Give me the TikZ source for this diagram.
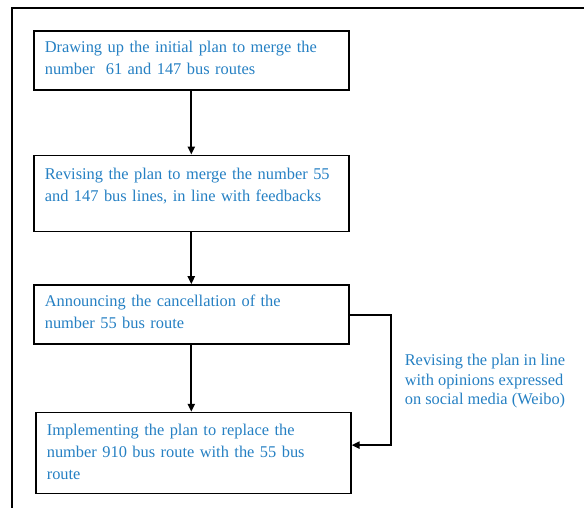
\documentclass[tikz,border=0pt]{standalone}
\usepackage{fontspec}
\setmainfont{Liberation Serif}
\usetikzlibrary{arrows.meta, positioning}

\definecolor{steptext}{HTML}{2580C3}

\tikzset{
    stepbox/.style={draw, line width=1.6pt, anchor=north, text width=293pt,
        align=left, inner xsep=11pt, inner ysep=0pt, text=steptext,
        font=\fontsize{16.4}{22}\selectfont},
    notetext/.style={align=left, inner sep=0pt, text=steptext,
        font=\fontsize{16.4}{19.5}\selectfont},
    flow/.style={->, line width=2pt}
}

\begin{document}
\begin{tikzpicture}[x=1pt, y=1pt, >={Triangle[length=8pt, width=7pt]}]
    \useasboundingbox (0,0) rectangle (584,-508);

    % Frame
    \draw[line width=1.4pt] (12,-508) -- (12,-8) -- (584,-8);

    % Nodes
    \node (plan) [stepbox, anchor=north west, text height=22pt, text depth=37pt] at (33,-30)
        {Drawing up the initial plan to merge the\\number~ 61 and 147 bus routes};
    \node (revise) [stepbox, below=64pt of plan, text height=24pt, text depth=52pt]
        {Revising the plan to merge the number 55\\and 147 bus lines, in line with feedbacks};
    \node (cancel) [stepbox, below=52pt of revise, text height=21pt, text depth=38pt]
        {Announcing the cancellation of the\\number 55 bus route};
    \node (replace) [stepbox, below=67pt of cancel, xshift=2pt, text height=23pt, text depth=58pt]
        {Implementing the plan to replace the\\number 910 bus route with the 55 bus\\route};

    \coordinate (bend) at ([xshift=41pt]cancel.east);
    \node (weibo) [notetext, anchor=west] at ([xshift=14pt, yshift=-67pt]bend)
        {Revising the plan in line\\with opinions expressed\\on social media (Weibo)};

    % Edges
    \draw[flow] (plan) -- (revise);
    \draw[flow] (revise) -- (cancel);
    \draw[flow] (cancel.south) -- (cancel.south |- replace.north);
    \draw[flow] (cancel.east) -- (bend) |- ([yshift=8pt]replace.east);
\end{tikzpicture}
\end{document}
